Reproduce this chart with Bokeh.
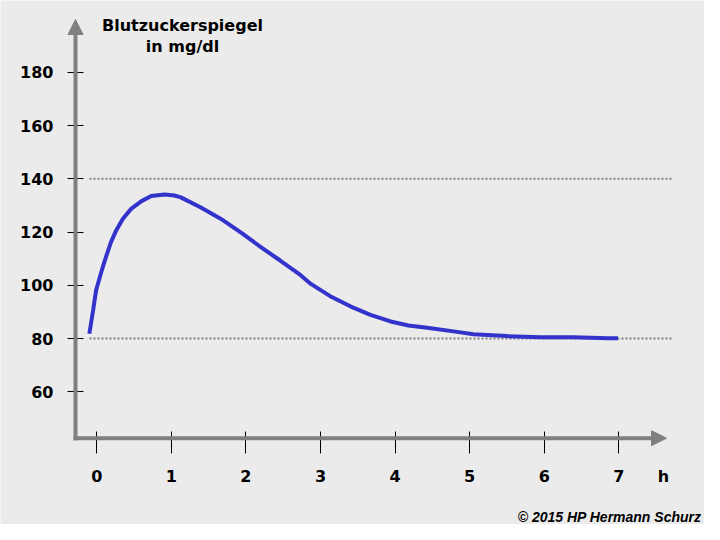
from bokeh.plotting import figure
from bokeh.models import Range1d, FixedTicker, Arrow, NormalHead, Label
from bokeh.core.properties import value
from bokeh.embed import file_html
from bokeh.resources import INLINE

# ---------------- data ----------------
hours = [-0.10, -0.05, -0.01, 0.04, 0.08, 0.13, 0.19, 0.26, 0.35, 0.46,
         0.60, 0.73, 0.91, 1.04, 1.12, 1.39, 1.66, 1.93, 2.20, 2.46,
         2.71, 2.87, 3.13, 3.40, 3.67, 3.94, 4.18, 4.43, 4.88, 5.05,
         5.50, 5.95, 6.39, 6.86, 6.99]
glucose = [81.8, 90.5, 98.0, 103.0, 106.8, 111.2, 116.2, 120.6, 125.0, 128.7,
           131.6, 133.5, 134.1, 133.7, 133.1, 129.3, 125.0, 119.9, 114.3, 109.3,
           104.3, 100.5, 95.9, 92.1, 88.9, 86.4, 84.9, 84.0, 82.3, 81.6,
           80.9, 80.5, 80.5, 80.1, 80.1]
x_ticks = [0, 1, 2, 3, 4, 5, 6, 7]
y_ticks = [60, 80, 100, 120, 140, 160, 180]
ref_levels = [80, 140]
title_lines = ["Blutzuckerspiegel", "in mg/dl"]
unit_label = "h"
credit = "\u00a9 2015 HP Hermann Schurz"

# ---------------- layout helpers (canvas pixels) ----------------
X0_PX, PX_PER_H = 96.3, 74.57
Y80_PX, PX_PER_MG = 338.0, 2.662


def tx(px):
    return (px - X0_PX) / PX_PER_H


def vy(py):
    return 80 + (Y80_PX - py) / PX_PER_MG


W, H = 704, 524

BG = "#ebebeb"
GRAY = "#808080"
BLUE = "#3333cc"
FONT = "DejaVu Sans"

p = figure(width=W, height=H,
           x_range=Range1d(tx(0), tx(W)), y_range=Range1d(vy(H), vy(0)),
           output_backend="svg", toolbar_location=None,
           min_border=0, min_border_left=0, min_border_right=0,
           min_border_top=0, min_border_bottom=0)
p.background_fill_color = BG
p.border_fill_color = BG
p.outline_line_color = None
p.grid.visible = False

xa = p.xaxis[0]
ya = p.yaxis[0]
xa.ticker = FixedTicker(ticks=x_ticks)
ya.ticker = FixedTicker(ticks=y_ticks)
xa.fixed_location = vy(437.7)
ya.fixed_location = tx(75)
for ax in (xa, ya):
    ax.axis_line_color = None
    ax.major_tick_line_color = "black"
    ax.major_tick_line_width = 1
    ax.minor_tick_line_color = None
    ax.major_label_text_font = FONT
    ax.major_label_text_font_style = "bold"
    ax.major_label_text_font_size = "16px"
    ax.major_label_text_color = "black"
ya.major_tick_in = 8
ya.major_tick_out = 8
ya.major_label_standoff = 14
xa.major_tick_in = 7
xa.major_tick_out = 15
xa.major_label_standoff = 17

# reference lines
p.segment(x0=[tx(89)] * len(ref_levels), y0=ref_levels,
          x1=[tx(672)] * len(ref_levels), y1=ref_levels,
          line_color=GRAY, line_width=2, line_dash="2 2")

# curve
p.line(hours, glucose, line_color=BLUE, line_width=4)

# axis arrows
p.add_layout(Arrow(x_start=tx(75), y_start=vy(439.7), x_end=tx(75), y_end=vy(19),
                   line_color=GRAY, line_width=4,
                   end=NormalHead(size=15, fill_color=GRAY, line_color=GRAY, line_width=1)))
p.add_layout(Arrow(x_start=tx(73), y_start=vy(437.7), x_end=tx(666), y_end=vy(437.7),
                   line_color=GRAY, line_width=4,
                   end=NormalHead(size=15, fill_color=GRAY, line_color=GRAY, line_width=1)))

# title
p.text(x=[tx(182)] * len(title_lines), y=[vy(24.5), vy(45.5)], text=title_lines,
       text_align="center", text_baseline="middle",
       text_font=value(FONT), text_font_style="bold", text_font_size="16px",
       text_color="black")

p.add_layout(Label(x=tx(663), y=vy(476), text=unit_label,
                   text_align="center", text_baseline="middle",
                   text_font=FONT, text_font_style="bold", text_font_size="16px",
                   text_color="black"))
p.add_layout(Label(x=tx(701), y=vy(516.5), text=credit,
                   text_align="right", text_baseline="middle",
                   text_font="Liberation Sans", text_font_style="bold italic",
                   text_font_size="14px", text_color="black"))

open("out.html", "w").write(file_html(p, INLINE))
